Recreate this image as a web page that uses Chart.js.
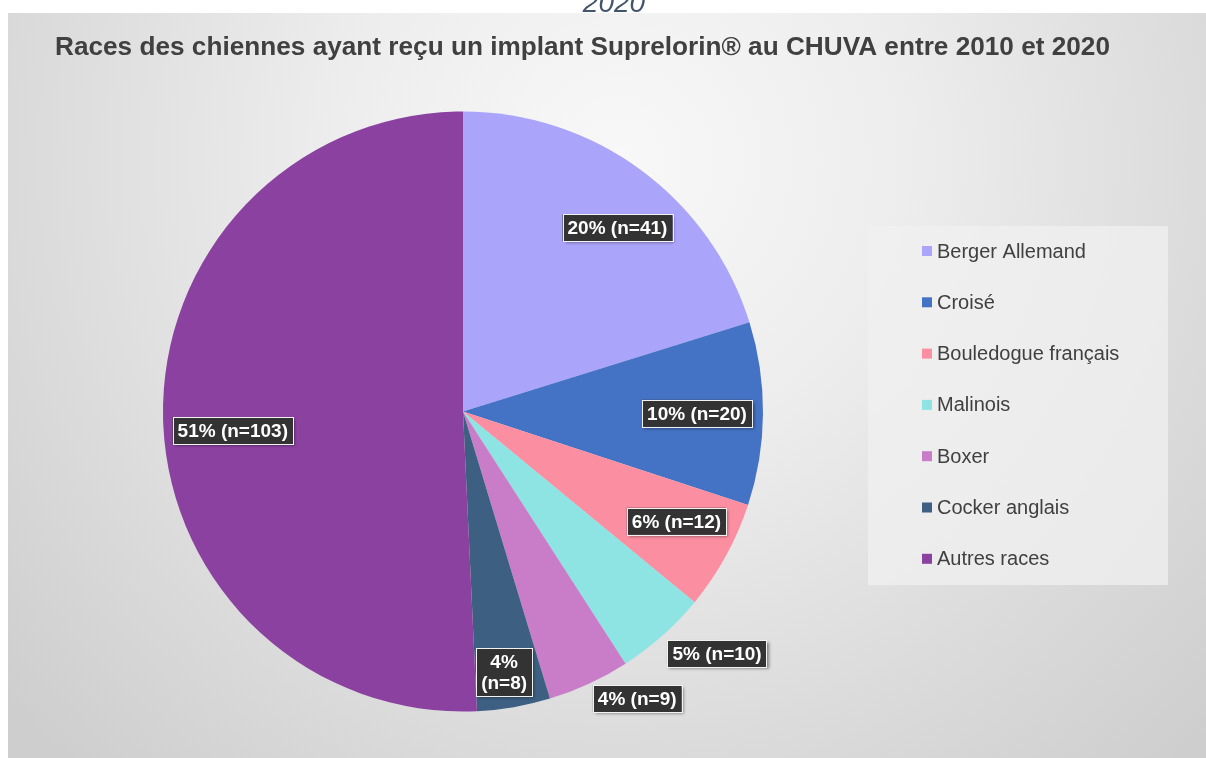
<!DOCTYPE html>
<html>
<head>
<meta charset="utf-8">
<script src="https://cdn.jsdelivr.net/npm/chart.js@4.4.0/dist/chart.umd.min.js"></script>
<style>
  html, body { margin: 0; padding: 0; background: #fff; }
  #wrap { position: absolute; left: 0; top: 0; width: 1206px; height: 758px; }
</style>
</head>
<body>
<div id="wrap"><canvas id="pieChart" width="1206" height="758"></canvas></div>
<script>
const breeds = ['Berger Allemand', 'Croisé', 'Bouledogue français', 'Malinois', 'Boxer', 'Cocker anglais', 'Autres races'];
const counts = [41, 20, 12, 10, 9, 8, 103];
const sliceColors = ['#aaa4fa', '#4472c4', '#fc8ea2', '#8ee3e3', '#c97dc9', '#3d5f82', '#8b41a0'];
const chartTitle = 'Races des chiennes ayant reçu un implant Suprelorin® au CHUVA entre 2010 et 2020';

// where each data label sits: fraction of radius, and a small angle nudge (degrees)
const labelDist = [0.80, 0.78, 0.80, 1.17, 1.12, 0.88, 0.77];
const labelNudge = [3.7, 0, -1.6, -4.7, -6.4, 0.8, -3.4];
const labelSplit = [false, false, false, false, false, true, false];

const total = counts.reduce((a, b) => a + b, 0);
const FONT = '"Liberation Sans", Arial, sans-serif';

const backdrop = {
    id: 'backdrop',
    beforeDraw(chart) {
        const ctx = chart.ctx;
        ctx.save();
        ctx.fillStyle = '#ffffff';
        ctx.fillRect(0, 0, chart.width, chart.height);
        const g = ctx.createRadialGradient(620, 160, 0, 620, 160, 820);
        g.addColorStop(0, '#f8f8f8');
        g.addColorStop(0.35, '#ededed');
        g.addColorStop(0.7, '#dcdcdc');
        g.addColorStop(1, '#cecece');
        ctx.fillStyle = g;
        ctx.fillRect(8, 13, chart.width - 8, chart.height - 13);

        // cut-off heading above the panel
        ctx.save();
        ctx.beginPath();
        ctx.rect(0, 0, chart.width, 13);
        ctx.clip();
        ctx.fillStyle = '#44546a';
        ctx.font = 'italic 28px ' + FONT;
        ctx.textAlign = 'center';
        ctx.textBaseline = 'alphabetic';
        ctx.fillText('2020', 614, 12);
        ctx.restore();

        // title, stretched to the same span as the original
        ctx.fillStyle = '#404040';
        ctx.font = 'bold 26px ' + FONT;
        ctx.textAlign = 'left';
        ctx.textBaseline = 'middle';
        const tw = ctx.measureText(chartTitle).width;
        ctx.save();
        ctx.translate(55, 48);
        ctx.scale(1055 / tw, 1);
        ctx.fillText(chartTitle, 0, 0);
        ctx.restore();

        // legend
        ctx.fillStyle = 'rgba(240,240,240,0.75)';
        ctx.fillRect(868, 226, 300, 359);
        ctx.font = '20px ' + FONT;
        breeds.forEach((b, i) => {
            const y = 251 + i * 51.3;
            ctx.fillStyle = sliceColors[i];
            ctx.fillRect(922, y - 5, 10, 10);
            ctx.fillStyle = '#404040';
            ctx.fillText(b, 937, y + 1);
        });
        ctx.restore();
    }
};

const dataLabels = {
    id: 'dataLabels',
    afterDatasetsDraw(chart) {
        const ctx = chart.ctx;
        const meta = chart.getDatasetMeta(0);
        ctx.save();
        ctx.font = 'bold 19px ' + FONT;
        ctx.textAlign = 'center';
        ctx.textBaseline = 'middle';
        meta.data.forEach((arc, i) => {
            const p = arc.getProps(['x', 'y', 'startAngle', 'endAngle', 'outerRadius'], true);
            const a = (p.startAngle + p.endAngle) / 2 + labelNudge[i] * Math.PI / 180;
            const r = p.outerRadius * labelDist[i];
            const cx = p.x + Math.cos(a) * r;
            const cy = p.y + Math.sin(a) * r;
            const pct = Math.round(counts[i] / total * 100) + '%';
            const lines = labelSplit[i] ? [pct, '(n=' + counts[i] + ')'] : [pct + ' (n=' + counts[i] + ')'];
            const lh = 21;
            let w = 0;
            lines.forEach(l => { w = Math.max(w, ctx.measureText(l).width); });
            const bw = w + 10;
            const bh = lines.length * lh + 6;
            const bx = cx - bw / 2;
            const by = cy - bh / 2;
            ctx.save();
            ctx.shadowColor = 'rgba(0,0,0,0.45)';
            ctx.shadowBlur = 3;
            ctx.shadowOffsetX = 2;
            ctx.shadowOffsetY = 2;
            ctx.fillStyle = '#333333';
            ctx.fillRect(bx, by, bw, bh);
            ctx.restore();
            ctx.strokeStyle = '#f2f2f2';
            ctx.lineWidth = 1;
            ctx.strokeRect(Math.round(bx) + 0.5, Math.round(by) + 0.5, Math.round(bw), Math.round(bh));
            ctx.fillStyle = '#ffffff';
            lines.forEach((l, k) => {
                ctx.fillText(l, cx, by + 3 + lh / 2 + k * lh + 1);
            });
        });
        ctx.restore();
    }
};

new Chart(document.getElementById('pieChart'), {
    type: 'pie',
    data: {
        labels: breeds,
        datasets: [{
            data: counts,
            backgroundColor: sliceColors,
            borderWidth: 0
        }]
    },
    options: {
        responsive: false,
        animation: false,
        layout: { padding: { left: 163, right: 443, top: 111, bottom: 46 } },
        plugins: {
            legend: { display: false },
            title: { display: false },
            tooltip: { enabled: false }
        }
    },
    plugins: [backdrop, dataLabels]
});
</script>
</body>
</html>
